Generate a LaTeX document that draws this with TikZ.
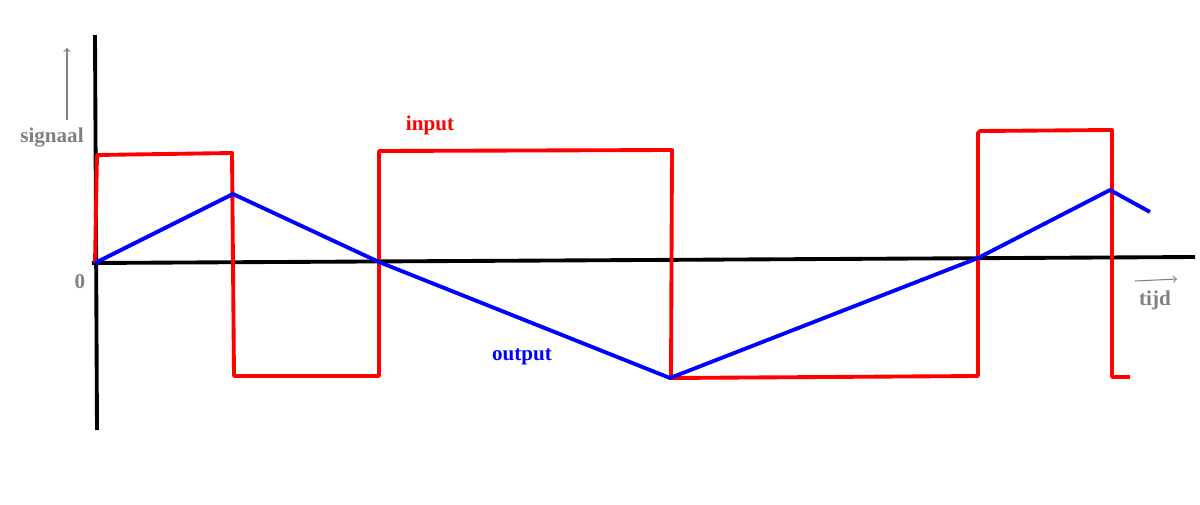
\documentclass[tikz,border=0pt]{standalone}
\usepackage{fontspec}
\setmainfont{Liberation Serif}
\begin{document}
\begin{tikzpicture}[x=0.02cm,y=-0.02cm,
  ax/.style={line width=2.2pt,black},
  inp/.style={line width=2.2pt,red,line join=round},
  outp/.style={line width=2.2pt,blue,line join=round},
  lab/.style={font=\bfseries\large},
  garr/.style={gray,->,line width=0.6pt}]
\useasboundingbox (0,0) rectangle (1200,504);
\draw[ax] (95,35) -- (97,430);
\draw[ax] (92,263) -- (1195,257);
\draw[inp] (95,263) -- (97,155) -- (232,153) -- (234,376) -- (379,376) -- (379,151) -- (672,150) -- (671,378) -- (978,376) -- (978,133) -- (980,131) -- (1112,130) -- (1112,377) -- (1130,377);
\draw[outp] (95,263) -- (233,194) -- (379,262) -- (670,378) -- (978,258) -- (1110,190) -- (1150,212);
\node[lab,gray] (sig) at (52,138) {signaal};
\coordinate (sa) at (67,120); \coordinate (sb) at (67,48);
\draw[garr] (sa) -- (sb);
\node[lab,gray] (zero) at (80,282) {0};
\node[lab,gray] (tijd) at (1155,300) {tijd};
\coordinate (ta) at (1135,281); \coordinate (tb) at (1177,279);
\draw[garr] (ta) -- (tb);
\node[lab,red] (in) at (430,125) {input};
\node[lab,blue] (out) at (522,357) {output};
\end{tikzpicture}
\end{document}
